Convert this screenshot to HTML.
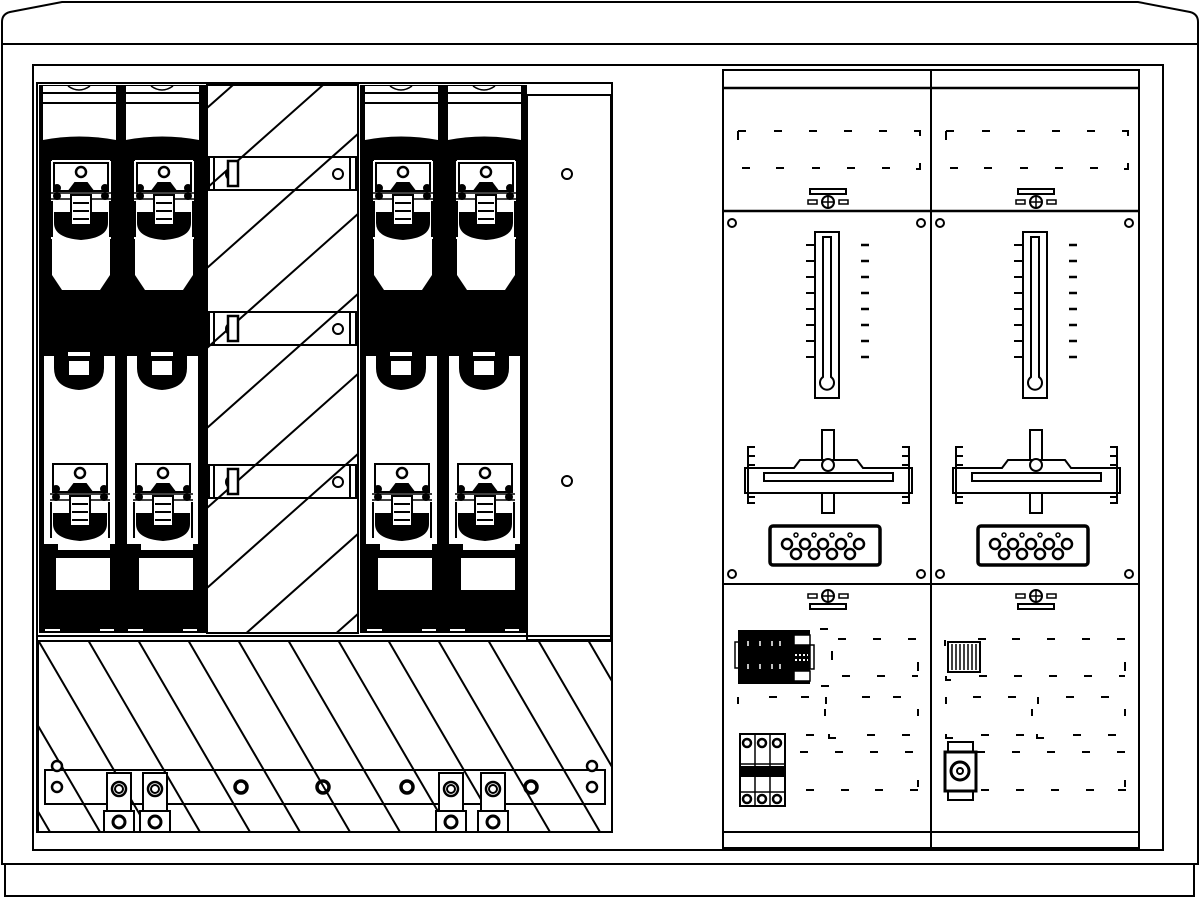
<!DOCTYPE html>
<html><head><meta charset="utf-8"><style>
html,body{margin:0;padding:0;background:#fff;}
svg{display:block;}
</style></head><body>
<svg width="1200" height="898" viewBox="0 0 1200 898" xmlns="http://www.w3.org/2000/svg" fill="none" stroke="#000" stroke-width="2">
<defs>
  <clipPath id="cmid"><rect x="207" y="85" width="151" height="548"/></clipPath>
  <clipPath id="cbot"><rect x="38" y="641" width="574" height="191"/></clipPath>
  <g id="clip">
    <rect x="0" y="0" width="60" height="78" fill="#fff" stroke="none"/>
    <path d="M3 2 H57 V30 H3 Z" stroke-width="2"/>
    <circle cx="30" cy="11" r="5" stroke-width="2.5"/>
    <path d="M18 30 L24 22 H36 L42 30 Z" fill="#000"/>
    <circle cx="6" cy="27" r="3" fill="#000"/><circle cx="54" cy="27" r="3" fill="#000"/>
    <circle cx="6" cy="35" r="3" fill="#000"/><circle cx="54" cy="35" r="3" fill="#000"/>
    <path d="M0 32 H60 M0 38 H60" stroke-width="1.5"/>
    <path d="M4 52 H56 V62 Q56 76 30 78 Q4 76 4 62 Z" fill="#000"/>
    <rect x="20" y="34" width="20" height="30" fill="#fff" stroke-width="2"/>
    <path d="M22 42 H38 M22 50 H38 M22 58 H38" stroke-width="2"/>
    <path d="M1 40 V76 M59 40 V76" stroke-width="2"/>
  </g>
  <g id="strip">
    <rect x="3" y="86" width="73" height="54" fill="#fff" stroke="none"/>
    <path d="M3 93 H76 M3 103 H76" stroke-width="2"/>
    <path d="M28 86 Q39 94 50 86" stroke-width="1.5"/>
    <path d="M3 140 Q39 133 76 140 V142 H3 Z" fill="#000" stroke="none"/>
    <path d="M12 160 H70 V275 L60 290 H22 L12 275 Z" fill="#fff" stroke="none"/>
    <use href="#clip" x="11" y="161"/>
    <rect x="4" y="356" width="71" height="188" fill="#fff" stroke="none"/>
    <path d="M14 356 H64 V368 Q64 388 39 390 Q14 388 14 368 Z" fill="#000" stroke="none"/>
    <rect x="28" y="360" width="22" height="16" fill="#fff" stroke="#000" stroke-width="2"/>
    <rect x="28" y="352" width="22" height="4" fill="#fff" stroke="none"/>
    <use href="#clip" x="10" y="462"/>
    <rect x="18" y="542" width="52" height="8" fill="#fff" stroke="none"/>
    <rect x="16" y="558" width="54" height="32" fill="#fff" stroke="none"/>
    <path d="M5 630 H20 M60 630 H74" stroke="#fff" stroke-width="2"/>
  </g>
  <g id="screwTop">
    <rect x="-18" y="-13" width="36" height="5" stroke-width="2"/>
    <rect x="-20" y="-2" width="9" height="4" stroke-width="1.5"/>
    <rect x="11" y="-2" width="9" height="4" stroke-width="1.5"/>
    <circle cx="0" cy="0" r="6" stroke-width="2"/>
    <path d="M-6 0 H6 M0 -6 V6" stroke-width="1.5"/>
  </g>
  <g id="screwBot">
    <rect x="-18" y="8" width="36" height="5" stroke-width="2"/>
    <rect x="-20" y="-2" width="9" height="4" stroke-width="1.5"/>
    <rect x="11" y="-2" width="9" height="4" stroke-width="1.5"/>
    <circle cx="0" cy="0" r="6" stroke-width="2"/>
    <path d="M-6 0 H6 M0 -6 V6" stroke-width="1.5"/>
  </g>
  <g id="meter">
    <circle cx="8" cy="223" r="4"/><circle cx="197" cy="223" r="4"/>
    <circle cx="8" cy="574" r="4"/><circle cx="197" cy="574" r="4"/>
    <rect x="91" y="232" width="24" height="166"/>
    <path d="M99 237 H107 V377 A7 7 0 1 1 99 377 Z"/>
    <path d="M82 245 H90 M82 261 H90 M82 277 H90 M82 293 H90 M82 309 H90 M82 325 H90 M82 341 H90 M82 357 H90" stroke-width="2"/>
    <path d="M137 245 H145 M137 261 H145 M137 277 H145 M137 293 H145 M137 309 H145 M137 325 H145 M137 341 H145 M137 357 H145" stroke-width="2.5"/>
    <path d="M21 468 H70 L76 460 H133 L139 468 H188 V493 H21 Z" fill="#fff"/>
    <rect x="40" y="473" width="129" height="8"/>
    <rect x="98" y="430" width="12" height="30" fill="#fff"/>
    <rect x="98" y="493" width="12" height="20" fill="#fff"/>
    <circle cx="104" cy="465" r="6" fill="#fff"/>
    <path d="M24 446 V504 M24 447 H31 M24 456 H31 M24 465 H31 M24 497 H31 M24 503 H31" stroke-width="2"/>
    <path d="M185 446 V504 M185 447 H178 M185 456 H178 M185 465 H178 M185 497 H178 M185 503 H178" stroke-width="2"/>
    <rect x="46" y="526" width="110" height="39" rx="3" stroke-width="3.5"/>
    <g stroke-width="2.5">
      <circle cx="63" cy="544" r="5"/><circle cx="81" cy="544" r="5"/><circle cx="99" cy="544" r="5"/><circle cx="117" cy="544" r="5"/><circle cx="135" cy="544" r="5"/>
      <circle cx="72" cy="554" r="5"/><circle cx="90" cy="554" r="5"/><circle cx="108" cy="554" r="5"/><circle cx="126" cy="554" r="5"/>
    </g>
    <g stroke-width="1.5"><circle cx="72" cy="535" r="2"/><circle cx="90" cy="535" r="2"/><circle cx="108" cy="535" r="2"/><circle cx="126" cy="535" r="2"/></g>
    <use href="#screwTop" x="104" y="202"/>
    <use href="#screwBot" x="104" y="596"/>
    <path d="M14 131 H22 M50 131 H58 M85 131 H93 M120 131 H128 M155 131 H163 M190 131 H196 V136 M14 131 V140 M18 168 H26 M52 168 H60 M88 168 H96 M123 168 H131 M158 168 H166 M196 163 V169 H192" stroke-width="2"/>
  </g>
</defs>

<path d="M2 44 V22 Q2 14 10 12 L62 2 H1138 L1190 12 Q1198 14 1198 22 V44 Z" stroke-width="2"/>
<rect x="2" y="44" width="1196" height="820" stroke-width="2"/>
<rect x="5" y="864" width="1189" height="32" stroke-width="2"/>
<rect x="33" y="65" width="1130" height="785" stroke-width="2"/>

<rect x="37" y="83" width="575" height="749" stroke-width="2"/>
<rect x="39" y="85" width="168" height="548" fill="#000" stroke="none"/>
<rect x="360" y="85" width="167" height="548" fill="#000" stroke="none"/>
<use href="#strip" x="40" y="0"/>
<use href="#strip" x="123" y="0"/>
<use href="#strip" x="362" y="0"/>
<use href="#strip" x="445" y="0"/>

<rect x="207" y="85" width="151" height="548" fill="#fff" stroke-width="2"/>
<g stroke-width="2">
  <rect x="209" y="157" width="147" height="33" fill="#fff"/>
  <rect x="209" y="312" width="147" height="33" fill="#fff"/>
  <rect x="209" y="465" width="147" height="33" fill="#fff"/>
  <path d="M214 157 V190 M350 157 V190 M214 312 V345 M350 312 V345 M214 465 V498 M350 465 V498"/>
</g>
<g clip-path="url(#cmid)" stroke-width="2">
  <path d="M207 108 L233 85 M207 188 L323 85 M207 268 L377 117 M207 348 L377 197 M207 428 L377 277 M207 508 L377 357 M207 588 L377 437 M207 668 L377 517 M207 748 L377 597 M207 828 L377 677"/>
</g>
<g stroke-width="2">
  <circle cx="338" cy="174" r="5" fill="#fff"/><circle cx="338" cy="329" r="5" fill="#fff"/><circle cx="338" cy="482" r="5" fill="#fff"/>
  <circle cx="232" cy="174" r="6"/><rect x="228" y="161" width="10" height="25" fill="#fff" stroke-width="2.5"/>
  <circle cx="232" cy="329" r="6"/><rect x="228" y="316" width="10" height="25" fill="#fff" stroke-width="2.5"/>
  <circle cx="232" cy="482" r="6"/><rect x="228" y="469" width="10" height="25" fill="#fff" stroke-width="2.5"/>
</g>

<rect x="527" y="95" width="84" height="545" fill="#fff" stroke-width="2"/>
<circle cx="567" cy="174" r="5"/><circle cx="567" cy="481" r="5"/>
<path d="M38 636 H612" stroke-width="2"/>

<rect x="38" y="641" width="574" height="191" fill="#fff" stroke-width="2"/>
<g clip-path="url(#cbot)" stroke-width="2">
  <path d="M-62 640 L50 832 M-12 640 L100 832 M38 640 L150 832 M88 640 L200 832 M138 640 L250 832 M188 640 L300 832 M238 640 L350 832 M288 640 L400 832 M338 640 L450 832 M388 640 L500 832 M438 640 L550 832 M488 640 L600 832 M538 640 L650 832 M588 640 L700 832"/>
</g>
<rect x="45" y="770" width="560" height="34" fill="none" stroke-width="2"/>
<g stroke-width="2.5">
  <circle cx="57" cy="766" r="5" fill="#fff"/><circle cx="57" cy="787" r="5" fill="#fff"/>
  <circle cx="592" cy="766" r="5" fill="#fff"/><circle cx="592" cy="787" r="5" fill="#fff"/>
  <circle cx="241" cy="787" r="6" stroke-width="3.5"/><circle cx="323" cy="787" r="6" stroke-width="3.5"/><circle cx="407" cy="787" r="6" stroke-width="3.5"/><circle cx="531" cy="787" r="6" stroke-width="3.5"/>
</g>
<g stroke-width="2">
  <g id="term">
    <rect x="107" y="773" width="24" height="38" fill="#fff"/>
    <circle cx="119" cy="789" r="7" stroke-width="2.5"/><circle cx="119" cy="789" r="4"/>
    <rect x="104" y="811" width="30" height="21" fill="#fff"/>
    <circle cx="119" cy="822" r="6" stroke-width="3"/>
  </g>
  <use href="#term" x="36" y="0"/>
  <use href="#term" x="332" y="0"/>
  <use href="#term" x="374" y="0"/>
</g>

<rect x="723" y="70" width="416" height="778" stroke-width="2"/>
<path d="M931 70 V848" stroke-width="2"/>
<path d="M723 88 H1139" stroke-width="2.5"/>
<path d="M723 211 H1139" stroke-width="2.5"/>
<path d="M723 584 H1139" stroke-width="2"/>
<path d="M723 832 H1139" stroke-width="2"/>
<use href="#meter" x="724" y="0"/>
<use href="#meter" x="932" y="0"/>

<g stroke-width="2">
  <path d="M820 629 H828 M838 639 H846 M873 639 H881 M908 639 H916 M832 651 V660 M918 662 V671 M842 676 H850 M877 676 H885 M912 676 H918 M821 686 H829"/>
  <path d="M738 697 V704 M769 697 H777 M801 697 H809 M826 697 V704 M862 697 H870 M893 697 H901 M825 709 V716 M918 709 V716 M829 734 V738 H836 M806 735 H814 M867 735 H875 M902 735 H910 M800 752 H808 M835 752 H843 M870 752 H878 M905 752 H913 M918 780 V787 M806 790 H814 M841 790 H849 M875 790 H883 M910 790 H918"/>
</g>
<rect x="739" y="631" width="70" height="52" fill="#000"/>
<rect x="794" y="635" width="16" height="10" fill="#fff" stroke="#000" stroke-width="1.5"/>
<rect x="794" y="671" width="16" height="10" fill="#fff" stroke="#000" stroke-width="1.5"/>
<path d="M795 655 H808 M795 660 H808" stroke="#fff" stroke-width="2" stroke-dasharray="2 2"/>
<path d="M748 641 V646 M760 641 V646 M772 641 V646 M780 641 V646 M748 664 V669 M760 664 V669 M772 664 V669 M780 664 V669" stroke="#fff" stroke-width="1.5"/>
<rect x="735" y="642" width="4" height="26" stroke-width="1.5"/>
<rect x="810" y="645" width="4" height="24" stroke-width="1.5"/>
<rect x="740" y="734" width="45" height="72" fill="#fff" stroke-width="2"/>
<path d="M755 734 V806 M770 734 V806 M740 764 H785 M740 775 H785 M740 792 H785" stroke-width="1.5"/>
<rect x="740" y="767" width="45" height="9" fill="#000"/>
<g stroke-width="2.5"><circle cx="747" cy="743" r="4"/><circle cx="762" cy="743" r="4"/><circle cx="777" cy="743" r="4"/><circle cx="747" cy="799" r="4"/><circle cx="762" cy="799" r="4"/><circle cx="777" cy="799" r="4"/></g>

<g stroke-width="2">
  <path d="M945 640 V646 M978 639 H986 M1012 639 H1020 M1047 639 H1055 M1082 639 H1090 M1117 639 H1125 M1125 662 V671 M946 676 V680 H951 M979 676 H987 M1014 676 H1022 M1049 676 H1057 M1084 676 H1092 M1119 676 H1125"/>
  <path d="M946 697 V704 M973 697 H981 M1008 697 H1016 M1038 697 V704 M1066 697 H1074 M1101 697 H1109 M1032 709 V716 M1125 709 V716 M946 734 V738 H953 M981 735 H989 M1016 735 H1024 M1037 734 V738 H1044 M1073 735 H1081 M1108 735 H1116 M977 752 H985 M1012 752 H1020 M1047 752 H1055 M1082 752 H1090 M1117 752 H1125 M1125 780 V787 M981 790 H989 M1016 790 H1024 M1051 790 H1059 M1086 790 H1094 M1118 790 H1126"/>
</g>
<rect x="948" y="642" width="32" height="30" fill="#fff" stroke-width="2"/>
<path d="M952 644 V670 M956 644 V670 M960 644 V670 M964 644 V670 M968 644 V670 M972 644 V670 M976 644 V670" stroke-width="1.5"/>
<rect x="948" y="742" width="25" height="58" fill="#fff" stroke-width="2"/>
<rect x="945" y="752" width="31" height="39" fill="#fff" stroke-width="3"/>
<circle cx="960" cy="771" r="9" stroke-width="3"/><circle cx="960" cy="771" r="3"/>
</svg>
</body></html>
